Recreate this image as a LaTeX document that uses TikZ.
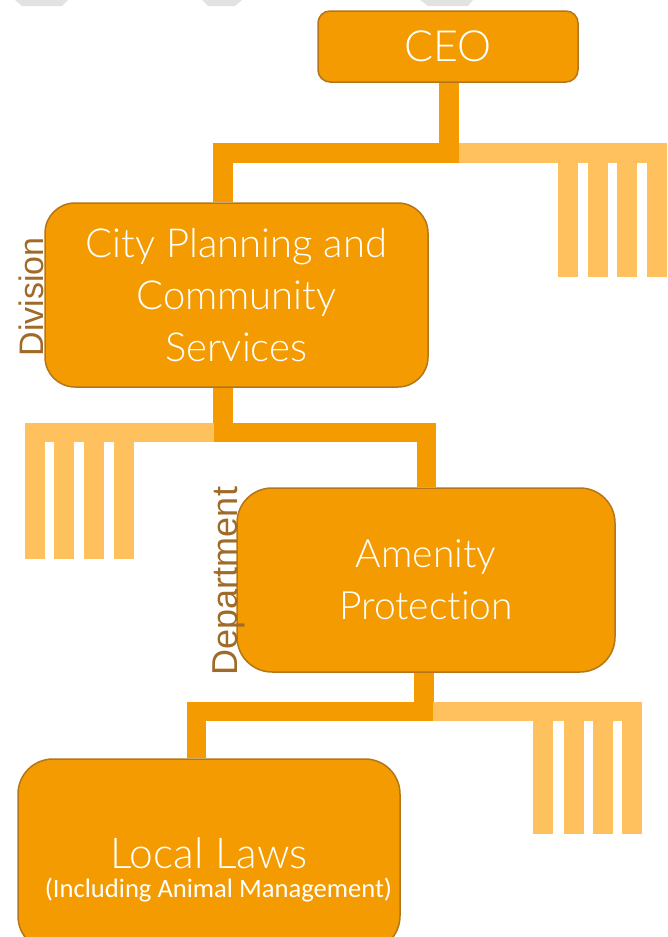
\documentclass[tikz,border=0pt]{standalone}
\usepackage{fontspec}
\setmainfont{Lato Light}[Ligatures={NoCommon,NoContextual}]
\newfontfamily\carl{Carlito}
\newfontfamily\arialish{Liberation Sans}
\usetikzlibrary{backgrounds}
\definecolor{boxfill}{HTML}{F39B00}
\definecolor{boxedge}{HTML}{B47618}
\definecolor{combfill}{HTML}{FEC15E}
\definecolor{lbl}{HTML}{A06A28}
\definecolor{wm}{HTML}{E2E2E2}
\begin{document}
\begin{tikzpicture}[x=1pt,y=-1pt,
  orgbox/.style={draw=boxedge, line width=1.5pt, fill=boxfill, text=white, align=center,
    inner sep=0pt, font=\fontsize{39}{52}\selectfont},
  boxtext/.style={text=white, inner sep=0pt, anchor=base},
  link/.style={draw=boxfill, line width=19.5pt, line join=miter, line cap=butt},
  comb/.style={fill=combfill},
  side/.style={text=lbl, rotate=90, inner sep=0pt, anchor=base, font=\arialish\fontsize{34}{34}\selectfont}]
\useasboundingbox (0,0) rectangle (667,937);
\clip (0,0) rectangle (667,937);

% faint marks at the top edge
\fill[wm] (15,0) -- (68,0) -- (62,6) -- (22,6) -- cycle;
\fill[wm] (202,0) -- (242,0) -- (235,6) -- (208,6) -- cycle;
\fill[wm] (420,0) -- (473,0) -- (468,6) -- (428,6) -- cycle;

% junction coordinates
\coordinate (j1) at (449,153);
\coordinate (j2) at (223,153);
\coordinate (j3) at (223,432.5);
\coordinate (j4) at (426.5,432.5);
\coordinate (j5) at (424,711.5);
\coordinate (j6) at (196.5,711.5);

% light combs
\fill[comb] (459,143) rectangle (667,163);
\foreach \x in {558,588,617,647} \fill[comb] (\x,162) rectangle (\x+19.5,277);
\fill[comb] (25,422.5) rectangle (214,442);
\foreach \x in {25,54,84,114} \fill[comb] (\x,441) rectangle (\x+19.5,559);
\fill[comb] (433,702) rectangle (642,721);
\foreach \x in {533,564,593,622} \fill[comb] (\x,720) rectangle (\x+19.5,834);

% boxes
\node[orgbox, minimum width=260pt, minimum height=71pt, rounded corners=12pt, font=\fontsize{43}{43}\selectfont] (ceo) at (448,46.5) {CEO};
\node[orgbox, minimum width=383pt, minimum height=184pt, rounded corners=30pt, font=\fontsize{40}{52}\selectfont] (div) at (236.5,295)
  {City Planning and\\Community\\Services};
\node[orgbox, minimum width=378pt, minimum height=184pt, rounded corners=35pt] (amen) at (426,580)
  {Amenity\\Protection};
\node[orgbox, minimum width=382pt, minimum height=192pt, rounded corners=35pt] (local) at (209,855) {};

% connectors (behind the boxes)
\begin{scope}[on background layer]
\draw[link] (ceo.south -| j1) -- (j1) -- (j2) -- (j2 |- div.north);
\draw[link] (div.south -| j3) -- (j3) -- (j4) -- (j4 |- amen.north);
\draw[link] (amen.south -| j5) -- (j5) -- (j6) -- (j6 |- local.north);
\end{scope}

\node[boxtext, font=\fontsize{42.5}{42.5}\selectfont] (ll) at (209,868) {Local Laws};
\node[boxtext, font=\carl\fontsize{26.6}{26.6}\selectfont] (incl) at (218.5,897) {(Including Animal Management)};

% side labels
\node[side] (divlbl) at (43,297) {Division};
\node[side, font=\arialish\fontsize{36}{36}\selectfont] (deplbl) at (237,581) {Department};
\end{tikzpicture}
\end{document}
